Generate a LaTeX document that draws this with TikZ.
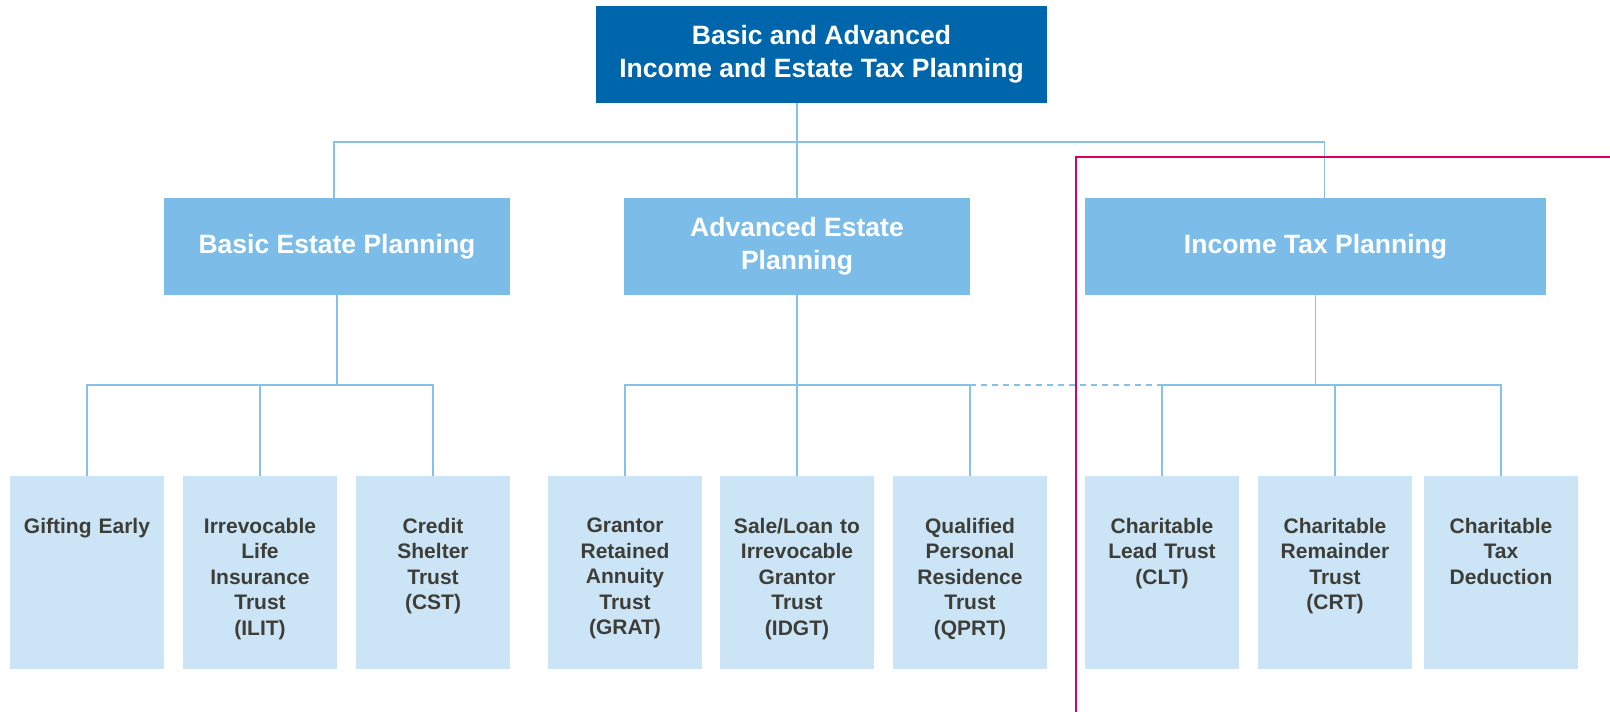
\documentclass[tikz,border=0pt]{standalone}
\usepackage{fontspec}
\setmainfont{Liberation Sans}
\usepackage{tikz}
\usetikzlibrary{positioning}
\definecolor{topblue}{RGB}{0,102,171}
\definecolor{midblue}{RGB}{123,189,232}
\definecolor{leafblue}{RGB}{204,229,246}
\definecolor{linkblue}{RGB}{133,193,232}
\definecolor{leafgray}{RGB}{62,62,56}
\definecolor{rulered}{RGB}{216,0,98}
\tikzstyle{root} = [rectangle, fill=topblue, minimum width=451pt, minimum height=97pt, inner sep=0pt, text=white, align=center, font=\bfseries\fontsize{26.5}{33}\selectfont]
\tikzstyle{branch} = [rectangle, fill=midblue, minimum height=97pt, inner sep=0pt, text=white, align=center, font=\bfseries\fontsize{26.5}{33}\selectfont]
\tikzstyle{leaf} = [rectangle, fill=leafblue, minimum width=154pt, minimum height=193pt, inner sep=0pt]
\tikzstyle{leaflabel} = [anchor=north, text width=150pt, inner sep=0pt, align=center, text=leafgray, font=\bfseries\fontsize{21}{25.5}\selectfont]
\tikzstyle{link} = [draw=linkblue, line width=1.5pt]

\begin{document}
\begin{tikzpicture}[x=1pt,y=-1pt]
\useasboundingbox (0,0) rectangle (1610,712);

\node[root] (plan) at (821.5,54.5) {Basic and Advanced\\Income and Estate Tax Planning};

\node[branch, minimum width=346pt] (basic) at (337,246.5) {Basic Estate Planning};
\node[branch, minimum width=346pt] (adv) at (797,246.5) {Advanced Estate\\Planning};
\node[branch, minimum width=461pt] (inc) at (1315.5,246.5) {Income Tax Planning};

\node[leaf] (gift) at (87,572.5) {};
\node[leaf] (ilit) at (260,572.5) {};
\node[leaf] (cst) at (433,572.5) {};
\node[leaf] (grat) at (625,572.5) {};
\node[leaf] (idgt) at (797,572.5) {};
\node[leaf] (qprt) at (970,572.5) {};
\node[leaf] (clt) at (1162,572.5) {};
\node[leaf] (crt) at (1335,572.5) {};
\node[leaf] (ctd) at (1501,572.5) {};

\node[leaflabel] (gift-t) at ([yshift=-42pt]gift.north) {Gifting Early};
\node[leaflabel] (ilit-t) at ([yshift=-42pt]ilit.north) {Irrevocable\\Life\\Insurance\\Trust\\(ILIT)};
\node[leaflabel] (cst-t) at ([yshift=-42pt]cst.north) {Credit\\Shelter\\Trust\\(CST)};
\node[leaflabel] (grat-t) at ([yshift=-42pt]grat.north) {Grantor\\Retained\\Annuity\\Trust\\(GRAT)};
\node[leaflabel] (idgt-t) at ([yshift=-42pt]idgt.north) {Sale/Loan to\\Irrevocable\\Grantor\\Trust\\(IDGT)};
\node[leaflabel] (qprt-t) at ([yshift=-42pt]qprt.north) {Qualified\\Personal\\Residence\\Trust\\(QPRT)};
\node[leaflabel] (clt-t) at ([yshift=-42pt]clt.north) {Charitable\\Lead Trust\\(CLT)};
\node[leaflabel] (crt-t) at ([yshift=-42pt]crt.north) {Charitable\\Remainder\\Trust\\(CRT)};
\node[leaflabel] (ctd-t) at ([yshift=-42pt]ctd.north) {Charitable\\Tax\\Deduction};

\coordinate (topbus) at (0,142);
\coordinate (lowbus) at (0,385);
\coordinate (basicup) at ([xshift=-3pt]basic.north);
\coordinate (incup) at ([xshift=9pt]inc.north);

\draw[link] (plan.south -| adv.north) -- (adv.north);
\draw[link] (basicup) |- (topbus -| incup) -- (incup);

\draw[link] (basic.south) -- (basic.south |- lowbus);
\draw[link] (gift.north) |- (lowbus -| cst.north) -- (cst.north);
\draw[link] (ilit.north) -- (ilit.north |- lowbus);

\draw[link] (adv.south) -- (adv.south |- lowbus);
\draw[link] (grat.north) |- (lowbus -| qprt.north) -- (qprt.north);
\draw[link] (idgt.north) -- (idgt.north |- lowbus);

\draw[link] (inc.south) -- (inc.south |- lowbus);
\draw[link] (clt.north) |- (lowbus -| ctd.north) -- (ctd.north);
\draw[link] (crt.north) -- (crt.north |- lowbus);

\draw[link, dash pattern=on 6pt off 5pt] (lowbus -| qprt.north) -- (lowbus -| clt.north);

\draw[rulered, line width=2.5pt] (1610,157) -| (1076,712);
\end{tikzpicture}
\end{document}
